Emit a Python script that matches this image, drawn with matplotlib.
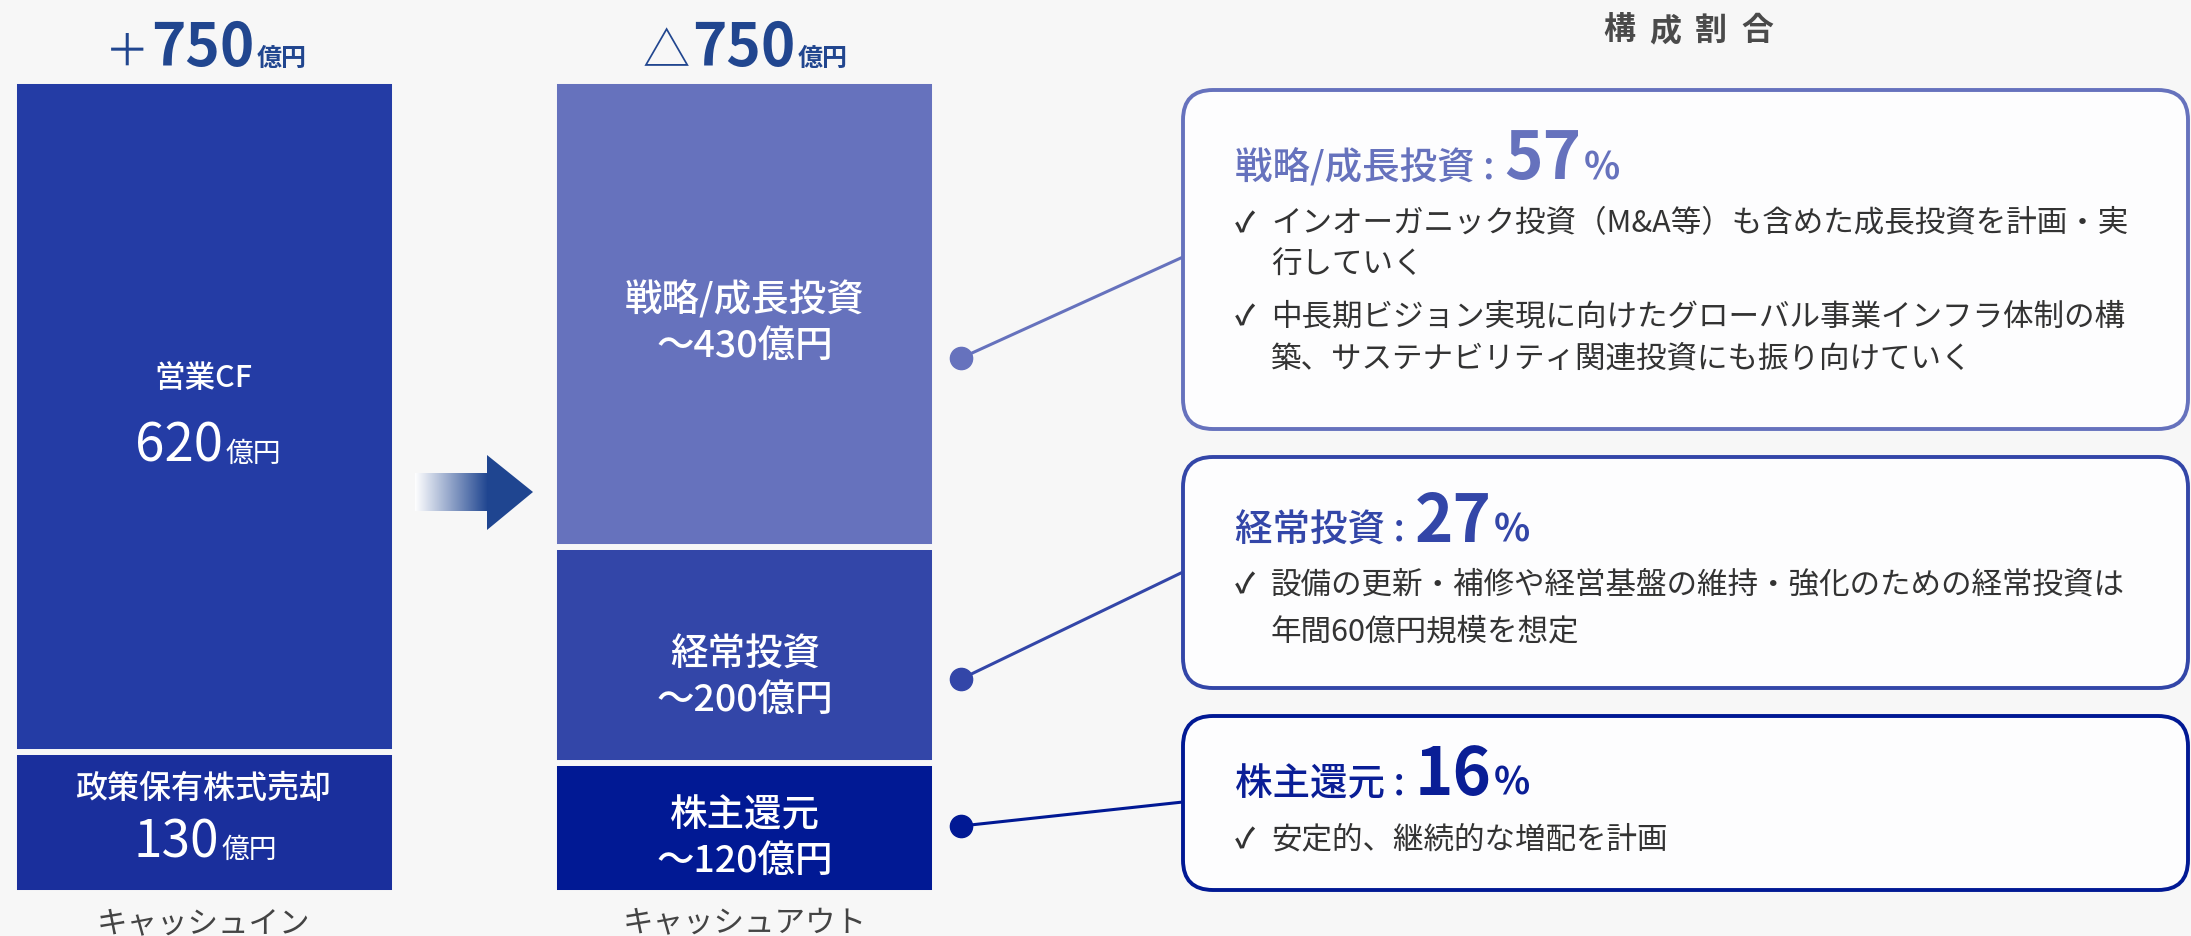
import numpy as np
import matplotlib.pyplot as plt
from matplotlib.patches import FancyBboxPatch, Polygon
from matplotlib.colors import LinearSegmentedColormap

plt.rcParams['font.family'] = ['Noto Sans CJK JP', 'DejaVu Sans']

# --- data ---
total = 750
in_labels = ["政策保有株式売却", "営業CF"]
in_values = [130, 620]
out_labels = ["株主還元", "経常投資", "戦略/成長投資"]
out_values = [120, 200, 430]
out_shares = [16, 27, 57]
bullets = {
    "戦略/成長投資": ["インオーガニック投資（M&A等）も含めた成長投資を計画・実\n行していく",
                 "中長期ビジョン実現に向けたグローバル事業インフラ体制の構\n築、サステナビリティ関連投資にも振り向けていく"],
    "経常投資": ["設備の更新・補修や経営基盤の維持・強化のための経常投資は\n年間60億円規模を想定"],
    "株主還元": ["安定的、継続的な増配を計画"],
}

BG = "#f7f7f7"
NAVY = "#21468f"
TXT = "#333333"
in_colors = ["#1a2f9c", "#243ca5"]
out_colors = ["#011994", "#3346a8", "#6672bd"]

W, H = 2191, 937
fig = plt.figure(figsize=(W / 100, H / 100), dpi=100, facecolor=BG)

# bars (value axis in 億円)
axb = fig.add_axes([14 / W, (H - 894) / H, (935 - 14) / W, (894 - 82) / H])
bw = 0.7056
axb.set_xlim(-bw / 2, 1 + bw / 2)
axb.set_ylim(0, total)
axb.axis("off")
bottom = 0
for v, c in zip(in_values, in_colors):
    axb.bar(0, v, bw, bottom=bottom, color=c, edgecolor=BG, linewidth=4.3)
    bottom += v
bottom = 0
for v, c in zip(out_values, out_colors):
    axb.bar(1, v, bw, bottom=bottom, color=c, edgecolor=BG, linewidth=4.3)
    bottom += v

# overlay in pixel units
ax = fig.add_axes([0, 0, 1, 1])
ax.set_xlim(0, W)
ax.set_ylim(H, 0)
ax.axis("off")
ax.patch.set_alpha(0)
r = fig.canvas.get_renderer()


def rich(x, y, parts, ha="center", gaps=None):
    # parts: (text, size, weight, colour); drawn side by side on one baseline
    objs = [ax.text(0, y, s, fontsize=fs, fontweight=fw, color=c, va="baseline", ha="left")
            for s, fs, fw, c in parts]
    widths = [o.get_window_extent(r).width for o in objs]
    gaps = gaps or [2] * (len(objs) - 1)
    tw = sum(widths) + sum(gaps)
    x0 = x - tw / 2 if ha == "center" else x
    for i, (o, wd) in enumerate(zip(objs, widths)):
        o.set_x(x0)
        x0 += wd + (gaps[i] if i < len(gaps) else 0)


# headline totals
rich(206, 66, [("＋", 32, "normal", NAVY), (str(total), 42, "bold", NAVY), ("億円", 18, "bold", NAVY)])
rich(745, 66, [("△", 34, "normal", NAVY), (str(total), 42, "bold", NAVY), ("億円", 18, "bold", NAVY)])

# cash in labels
ax.text(203, 379, in_labels[1], fontsize=22, fontweight="medium", color="white", ha="center", va="center")
rich(208, 462, [(str(in_values[1]), 38, "normal", "white"), ("億円", 20, "normal", "white")], gaps=[3])
ax.text(203, 789, in_labels[0], fontsize=23, fontweight="medium", color="white", ha="center", va="center")
rich(205, 858, [(str(in_values[0]), 37, "normal", "white"), ("億円", 20, "normal", "white")], gaps=[3])

# cash out labels
out_label_y = [(815, 861), (655, 700), (300, 346)]
for lab, v, (y1, y2) in zip(out_labels, out_values, out_label_y):
    ax.text(745, y1, lab, fontsize=27, fontweight="medium", color="white", ha="center", va="center")
    ax.text(745, y2, f"～{v}億円", fontsize=27, fontweight="medium", color="white", ha="center", va="center")

# bottom captions
ax.text(203, 908, "キャッシュイン", fontsize=22, color="#444444", ha="center", va="top")
ax.text(745, 908, "キャッシュアウト", fontsize=22, color="#444444", ha="center", va="top")

# arrow with gradient shaft
cmap = LinearSegmentedColormap.from_list("fade", ["#ffffff", "#1f4590"])
ax.imshow(np.linspace(0, 1, 256)[None, :], cmap=cmap, extent=[415, 488, 512, 474],
          aspect="auto", interpolation="bilinear")
ax.add_patch(Polygon([(487, 456), (533, 493), (487, 531)], closed=True, color="#1f4590", lw=0))
ax.set_xlim(0, W)
ax.set_ylim(H, 0)

# right panel title
for i, ch in enumerate("構成割合"):
    ax.text(1688 + (i - 1.5) * 46, 31, ch, fontsize=23, fontweight="bold", color="#4a4a4a",
            ha="center", va="center")

# boxes
boxes = [  # (label index, top, bottom, dot y, box join y, title baseline, bullet line ys)
    (2, 91, 430, 359, 258, 179, [224, 265, 317, 359]),
    (1, 458, 689, 680, 573, 542, [585, 632]),
    (0, 717, 891, 827, 803, 795, [840]),
]
title_colors = ["#0a1e96", "#3346a8", "#6672bd"]
for idx, top, bot, dy, jy, tb, lys in boxes:
    c = out_colors[idx]
    ax.add_patch(FancyBboxPatch((1183, top), 2188 - 1183, bot - top,
                                boxstyle="round,pad=0,rounding_size=30",
                                facecolor="#fdfdfe", edgecolor=c, linewidth=2.8, zorder=2))
    ax.plot([961, 1183], [dy, jy], color=c, lw=2.2, zorder=1)
    ax.plot(961, dy, "o", color=c, markersize=16, zorder=3)
    tc = title_colors[idx]
    rich(1235, tb, [(out_labels[idx] + " :", 27, "medium", tc), (str(out_shares[idx]), 47, "bold", tc),
                    ("%", 27, "bold", tc)], ha="left", gaps=[10, 2])
    k = 0
    for b in bullets[out_labels[idx]]:
        ax.text(1235, lys[k], "✓", fontsize=20, fontweight="bold", color=TXT, ha="left", va="center", zorder=4)
        for ln in b.split("\n"):
            ax.text(1271, lys[k], ln, fontsize=22, color=TXT, ha="left", va="center", zorder=4)
            k += 1

fig.savefig("out.png", dpi=100, facecolor=BG)
